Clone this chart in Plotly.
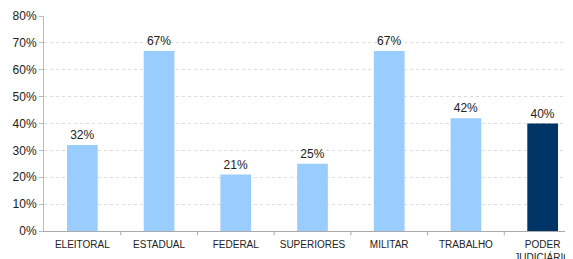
import plotly.graph_objects as go

categories = ["ELEITORAL", "ESTADUAL", "FEDERAL", "SUPERIORES", "MILITAR", "TRABALHO", "PODER<br>JUDICIÁRIO"]
values = [0.32, 0.67, 0.21, 0.25, 0.67, 0.42, 0.40]
labels = ["32%", "67%", "21%", "25%", "67%", "42%", "40%"]
colors = ["#99CCFF"] * 6 + ["#003366"]

fig = go.Figure()
fig.add_trace(go.Bar(
    x=list(range(len(categories))), y=values, width=0.4,
    marker=dict(color=colors, line=dict(width=0)),
    text=labels, textposition="outside", cliponaxis=False,
    textfont=dict(family="Liberation Sans, Arial", size=12, color="#222"),
))
fig.update_layout(
    width=573, height=259,
    margin=dict(l=36, r=0, t=8, b=36),
    paper_bgcolor="white", plot_bgcolor="white",
    showlegend=False,
    font=dict(family="Liberation Sans, Arial", color="#222"),
)
fig.update_xaxes(
    tickmode="array", tickvals=list(range(len(categories))), ticktext=categories,
    range=[-0.5, 6.5], showgrid=False, showline=True, linecolor="#aaa", linewidth=1,
    ticks="", tickfont=dict(size=10, color="#222"), zeroline=False, ticklabelstandoff=4,
)
fig.update_yaxes(
    range=[0, 0.8], dtick=0.1, tickformat=".0%",
    showgrid=True, gridcolor="#ddd", griddash="dot", gridwidth=1,
    showline=True, linecolor="#bbb", linewidth=1, ticks="outside", ticklen=4, tickcolor="#bbb",
    tickfont=dict(size=12, color="#222"), zeroline=False,
)
# category boundary tick marks along the bottom axis
for b in [0.5, 1.5, 2.5, 3.5, 4.5, 5.5]:
    fig.add_shape(type="line", xref="x", yref="paper", x0=b, x1=b, y0=0, y1=-0.02,
                  line=dict(color="#aaa", width=1))
fig.write_html("out.html")
